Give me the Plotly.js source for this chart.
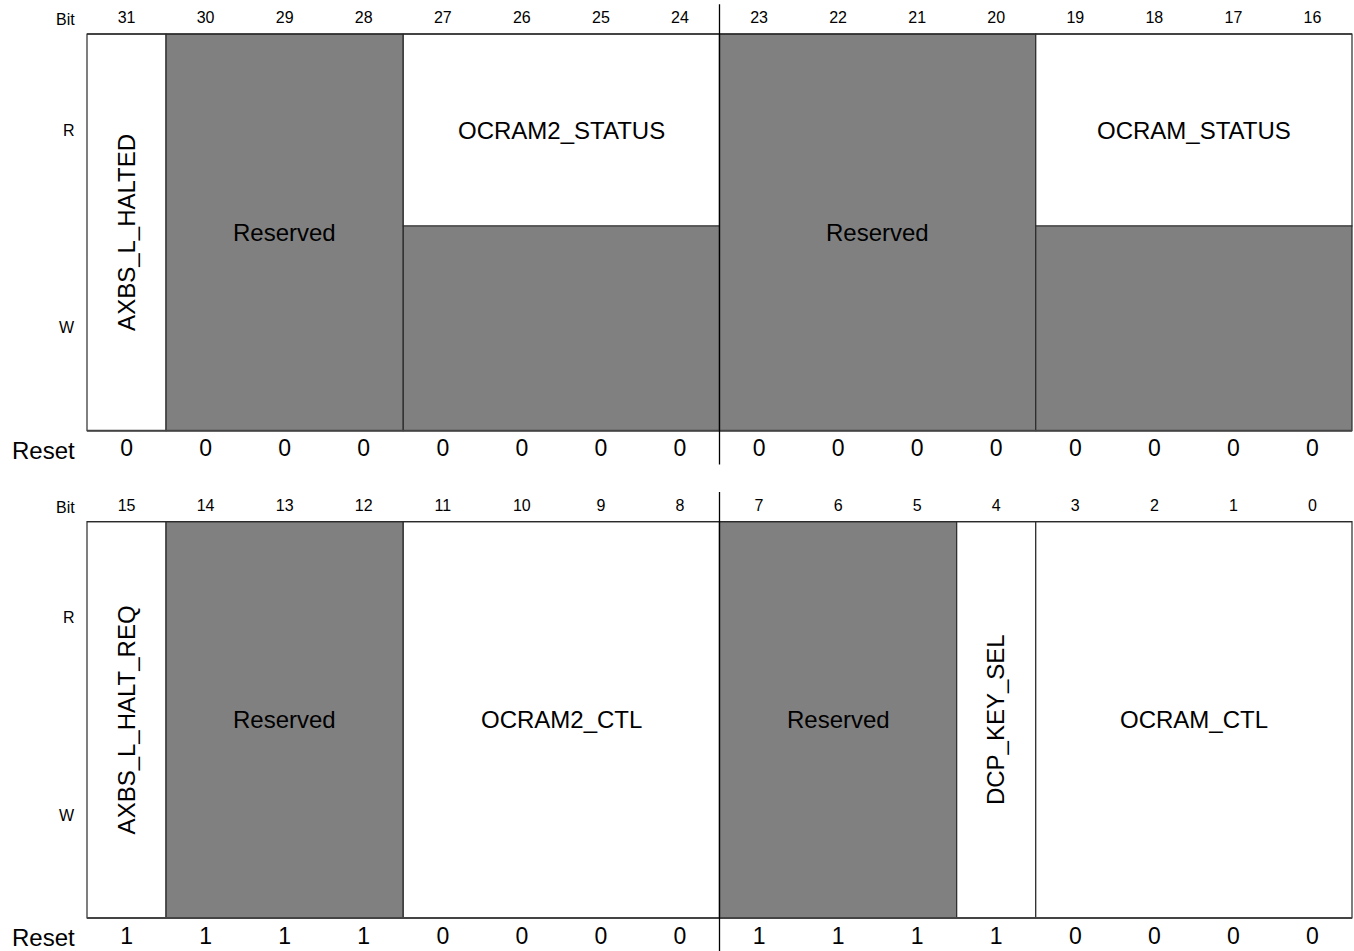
<!DOCTYPE html>
<html>
<head>
<meta charset="utf-8">
<script src="https://cdn.plot.ly/plotly-3.0.1.min.js"></script>
<style>html,body{margin:0;padding:0;background:#fff;}#chart{width:1354px;height:951px;}</style>
</head>
<body>
<div id="chart"></div>
<script>
// ---- data ----
const bitsTop = [31,30,29,28,27,26,25,24,23,22,21,20,19,18,17,16];
const bitsBottom = [15,14,13,12,11,10,9,8,7,6,5,4,3,2,1,0];
const resetTop = [0,0,0,0,0,0,0,0,0,0,0,0,0,0,0,0];
const resetBottom = [1,1,1,1,0,0,0,0,1,1,1,1,0,0,0,0];

const fieldNamesTop = ["AXBS_L_HALTED","Reserved","OCRAM2_STATUS","Reserved","OCRAM_STATUS"];
const fieldMsbTop = [31,30,27,23,19];
const fieldLsbTop = [31,28,24,20,16];
const fieldTypeTop = ["rw","rsv","ro","rsv","ro"];

const fieldNamesBottom = ["AXBS_L_HALT_REQ","Reserved","OCRAM2_CTL","Reserved","DCP_KEY_SEL","OCRAM_CTL"];
const fieldMsbBottom = [15,14,11,7,4,3];
const fieldLsbBottom = [15,12,8,5,4,0];
const fieldTypeBottom = ["rw","rsv","rw","rsv","rw","rw"];

const rowLabels = ["R","W"];
const bitHeader = "Bit";
const resetHeader = "Reset";

// ---- style / layout constants ----
const FONT = "'Liberation Sans', Arial, Helvetica, sans-serif";
const GRAY = "#808080";
const LINE = "#2a2a2a";
const SPLIT = 0.516;     // R/W split inside a register box (box spans 0..1)
const BIT_Y = 1.037;
const RESET_Y = -0.05;
const LABEL_X = -0.125;

const shapes = [];
const annotations = [];
const traces = [];

function buildRegister(bits, reset, names, msbs, lsbs, types, yref, yaxisName) {
  const top = bits[0];
  const centers = bits.map(b => top - b + 0.5);
  // bit numbers
  traces.push({
    type: "scatter", mode: "text", x: centers, y: bits.map(() => BIT_Y),
    text: bits.map(String), textposition: "middle center",
    textfont: {family: FONT, size: 16, color: "#000"},
    hoverinfo: "skip", showlegend: false, xaxis: "x", yaxis: yaxisName
  });
  // reset values
  traces.push({
    type: "scatter", mode: "text", x: centers, y: reset.map(() => RESET_Y),
    text: reset.map(String), textposition: "middle center",
    textfont: {family: FONT, size: 23, color: "#000"},
    hoverinfo: "skip", showlegend: false, xaxis: "x", yaxis: yaxisName
  });
  // fields
  for (let i = 0; i < names.length; i++) {
    const x0 = top - msbs[i];
    const x1 = top - lsbs[i] + 1;
    const t = types[i];
    if (t === "ro") {
      shapes.push({type: "rect", xref: "x", yref: yref, x0: x0, x1: x1, y0: SPLIT, y1: 1,
        fillcolor: "#fff", line: {color: LINE, width: 1.2}, layer: "below"});
      shapes.push({type: "rect", xref: "x", yref: yref, x0: x0, x1: x1, y0: 0, y1: SPLIT,
        fillcolor: GRAY, line: {color: LINE, width: 1.2}, layer: "below"});
    } else {
      shapes.push({type: "rect", xref: "x", yref: yref, x0: x0, x1: x1, y0: 0, y1: 1,
        fillcolor: t === "rsv" ? GRAY : "#fff", line: {color: LINE, width: 1.2}, layer: "below"});
    }
    const vertical = (msbs[i] === lsbs[i]);
    annotations.push({
      xref: "x", yref: yref, x: (x0 + x1) / 2, y: t === "ro" ? (SPLIT + 1) / 2 : 0.5,
      text: names[i], showarrow: false, textangle: vertical ? -90 : 0,
      font: {family: FONT, size: 24, color: "#000"}
    });
  }
  // outer box top and bottom lines
  shapes.push({type: "line", xref: "x", yref: yref, x0: 0, x1: 16, y0: 1, y1: 1,
    line: {color: LINE, width: 1.3}});
  shapes.push({type: "line", xref: "x", yref: yref, x0: 0, x1: 16, y0: 0, y1: 0,
    line: {color: "#444", width: 2}});
  // half-word divider
  shapes.push({type: "line", xref: "x", yref: yref, x0: 8, x1: 8, y0: -0.085, y1: 1.075,
    line: {color: "#000", width: 1.3}});
  // row labels
  annotations.push({xref: "x", yref: yref, x: LABEL_X, y: BIT_Y, xanchor: "right", text: bitHeader,
    showarrow: false, font: {family: FONT, size: 16, color: "#000"}});
  annotations.push({xref: "x", yref: yref, x: LABEL_X, y: 0.758, xanchor: "right", text: rowLabels[0],
    showarrow: false, font: {family: FONT, size: 16, color: "#000"}});
  annotations.push({xref: "x", yref: yref, x: LABEL_X, y: 0.259, xanchor: "right", text: rowLabels[1],
    showarrow: false, font: {family: FONT, size: 16, color: "#000"}});
  annotations.push({xref: "x", yref: yref, x: LABEL_X, y: RESET_Y, xanchor: "right", text: resetHeader,
    showarrow: false, font: {family: FONT, size: 24, color: "#000"}});
}

buildRegister(bitsTop, resetTop, fieldNamesTop, fieldMsbTop, fieldLsbTop, fieldTypeTop, "y", "y");
buildRegister(bitsBottom, resetBottom, fieldNamesBottom, fieldMsbBottom, fieldLsbBottom, fieldTypeBottom, "y2", "y2");

const layout = {
  width: 1354, height: 951,
  margin: {l: 0, r: 0, t: 0, b: 0, pad: 0},
  paper_bgcolor: "#fff", plot_bgcolor: "#fff",
  showlegend: false,
  xaxis: {range: [-1.1004, 16.0253], visible: false, fixedrange: true},
  yaxis: {domain: [0.5, 1], range: [-0.1129, 1.0857], visible: false, fixedrange: true},
  yaxis2: {domain: [0, 0.5], range: [-0.0833, 1.1166], visible: false, fixedrange: true, anchor: "x"},
  shapes: shapes,
  annotations: annotations,
  font: {family: FONT}
};

Plotly.newPlot("chart", traces, layout, {displayModeBar: false, staticPlot: true});
</script>
</body>
</html>
